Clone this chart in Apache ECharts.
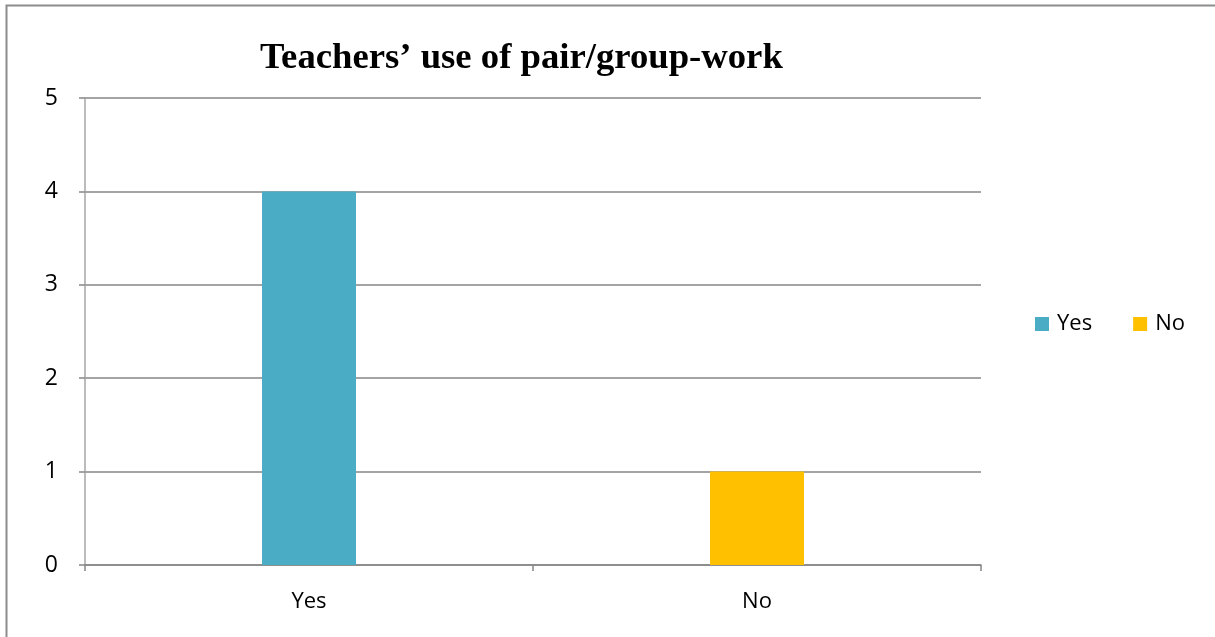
<!DOCTYPE html>
<html>
<head>
<meta charset="utf-8">
<script src="https://cdn.jsdelivr.net/npm/echarts@6/dist/echarts.min.js"></script>
<style>
  html, body { margin: 0; padding: 0; background: #fff; }
  #chart { width: 1215px; height: 637px; }
</style>
</head>
<body>
<div id="chart"></div>
<script>
// Survey answers: how many teachers use pair/group-work
const categories = ['Yes', 'No'];
const yesValues = [4, null];
const noValues = [null, 1];
const yTicks = [0, 1, 2, 3, 4, 5];
const titleText = 'Teachers\u2019 use of pair/group-work';

const chart = echarts.init(document.getElementById('chart'), null, { renderer: 'canvas' });

const labelFont = 'Open Sans, Liberation Sans, sans-serif';

chart.setOption({
  animation: false,
  backgroundColor: '#ffffff',
  title: {
    text: titleText,
    left: 260,
    top: 40,
    padding: 0,
    textStyle: {
      fontFamily: 'Liberation Serif, Times New Roman, serif',
      fontWeight: 'bold',
      fontSize: 36.7,
      color: '#000000'
    }
  },
  legend: {
    data: categories,
    left: 1035,
    top: 313,
    padding: 0,
    itemWidth: 14,
    itemHeight: 14,
    itemGap: 41,
    icon: 'rect',
    textStyle: { fontFamily: labelFont, fontSize: 22, color: '#000000', padding: [0, 0, 0, 3] }
  },
  graphic: [{
    type: 'rect',
    shape: { x: 6.5, y: 5.5, width: 1300, height: 700 },
    style: { fill: null, stroke: '#8c8c8c', lineWidth: 2 },
    silent: true
  }],
  grid: { left: 85, right: 234, top: 98, bottom: 72, containLabel: false },
  xAxis: {
    type: 'category',
    data: categories,
    axisLine: { lineStyle: { color: '#868686', width: 1.5 } },
    axisTick: { show: true, length: 6, alignWithLabel: false, lineStyle: { color: '#868686', width: 1.5 } },
    axisLabel: { fontFamily: labelFont, fontSize: 22, color: '#000000', margin: 26 }
  },
  yAxis: {
    type: 'value',
    min: yTicks[0],
    max: yTicks[yTicks.length - 1],
    interval: 1,
    axisLine: { show: true, lineStyle: { color: '#a6a6a6', width: 1.5 } },
    axisTick: { show: true, length: 6, lineStyle: { color: '#868686', width: 1.5 } },
    axisLabel: { fontFamily: labelFont, fontSize: 23, color: '#000000', margin: 27, padding: [5, 0, 0, 0] },
    splitLine: { show: true, lineStyle: { color: '#868686', width: 1.5 } }
  },
  series: [
    {
      name: 'Yes',
      type: 'bar',
      stack: 'answers',
      data: yesValues,
      barWidth: 94,
      itemStyle: { color: '#4bacc6' }
    },
    {
      name: 'No',
      type: 'bar',
      stack: 'answers',
      data: noValues,
      barWidth: 94,
      itemStyle: { color: '#ffc000' }
    }
  ]
});
</script>
</body>
</html>
